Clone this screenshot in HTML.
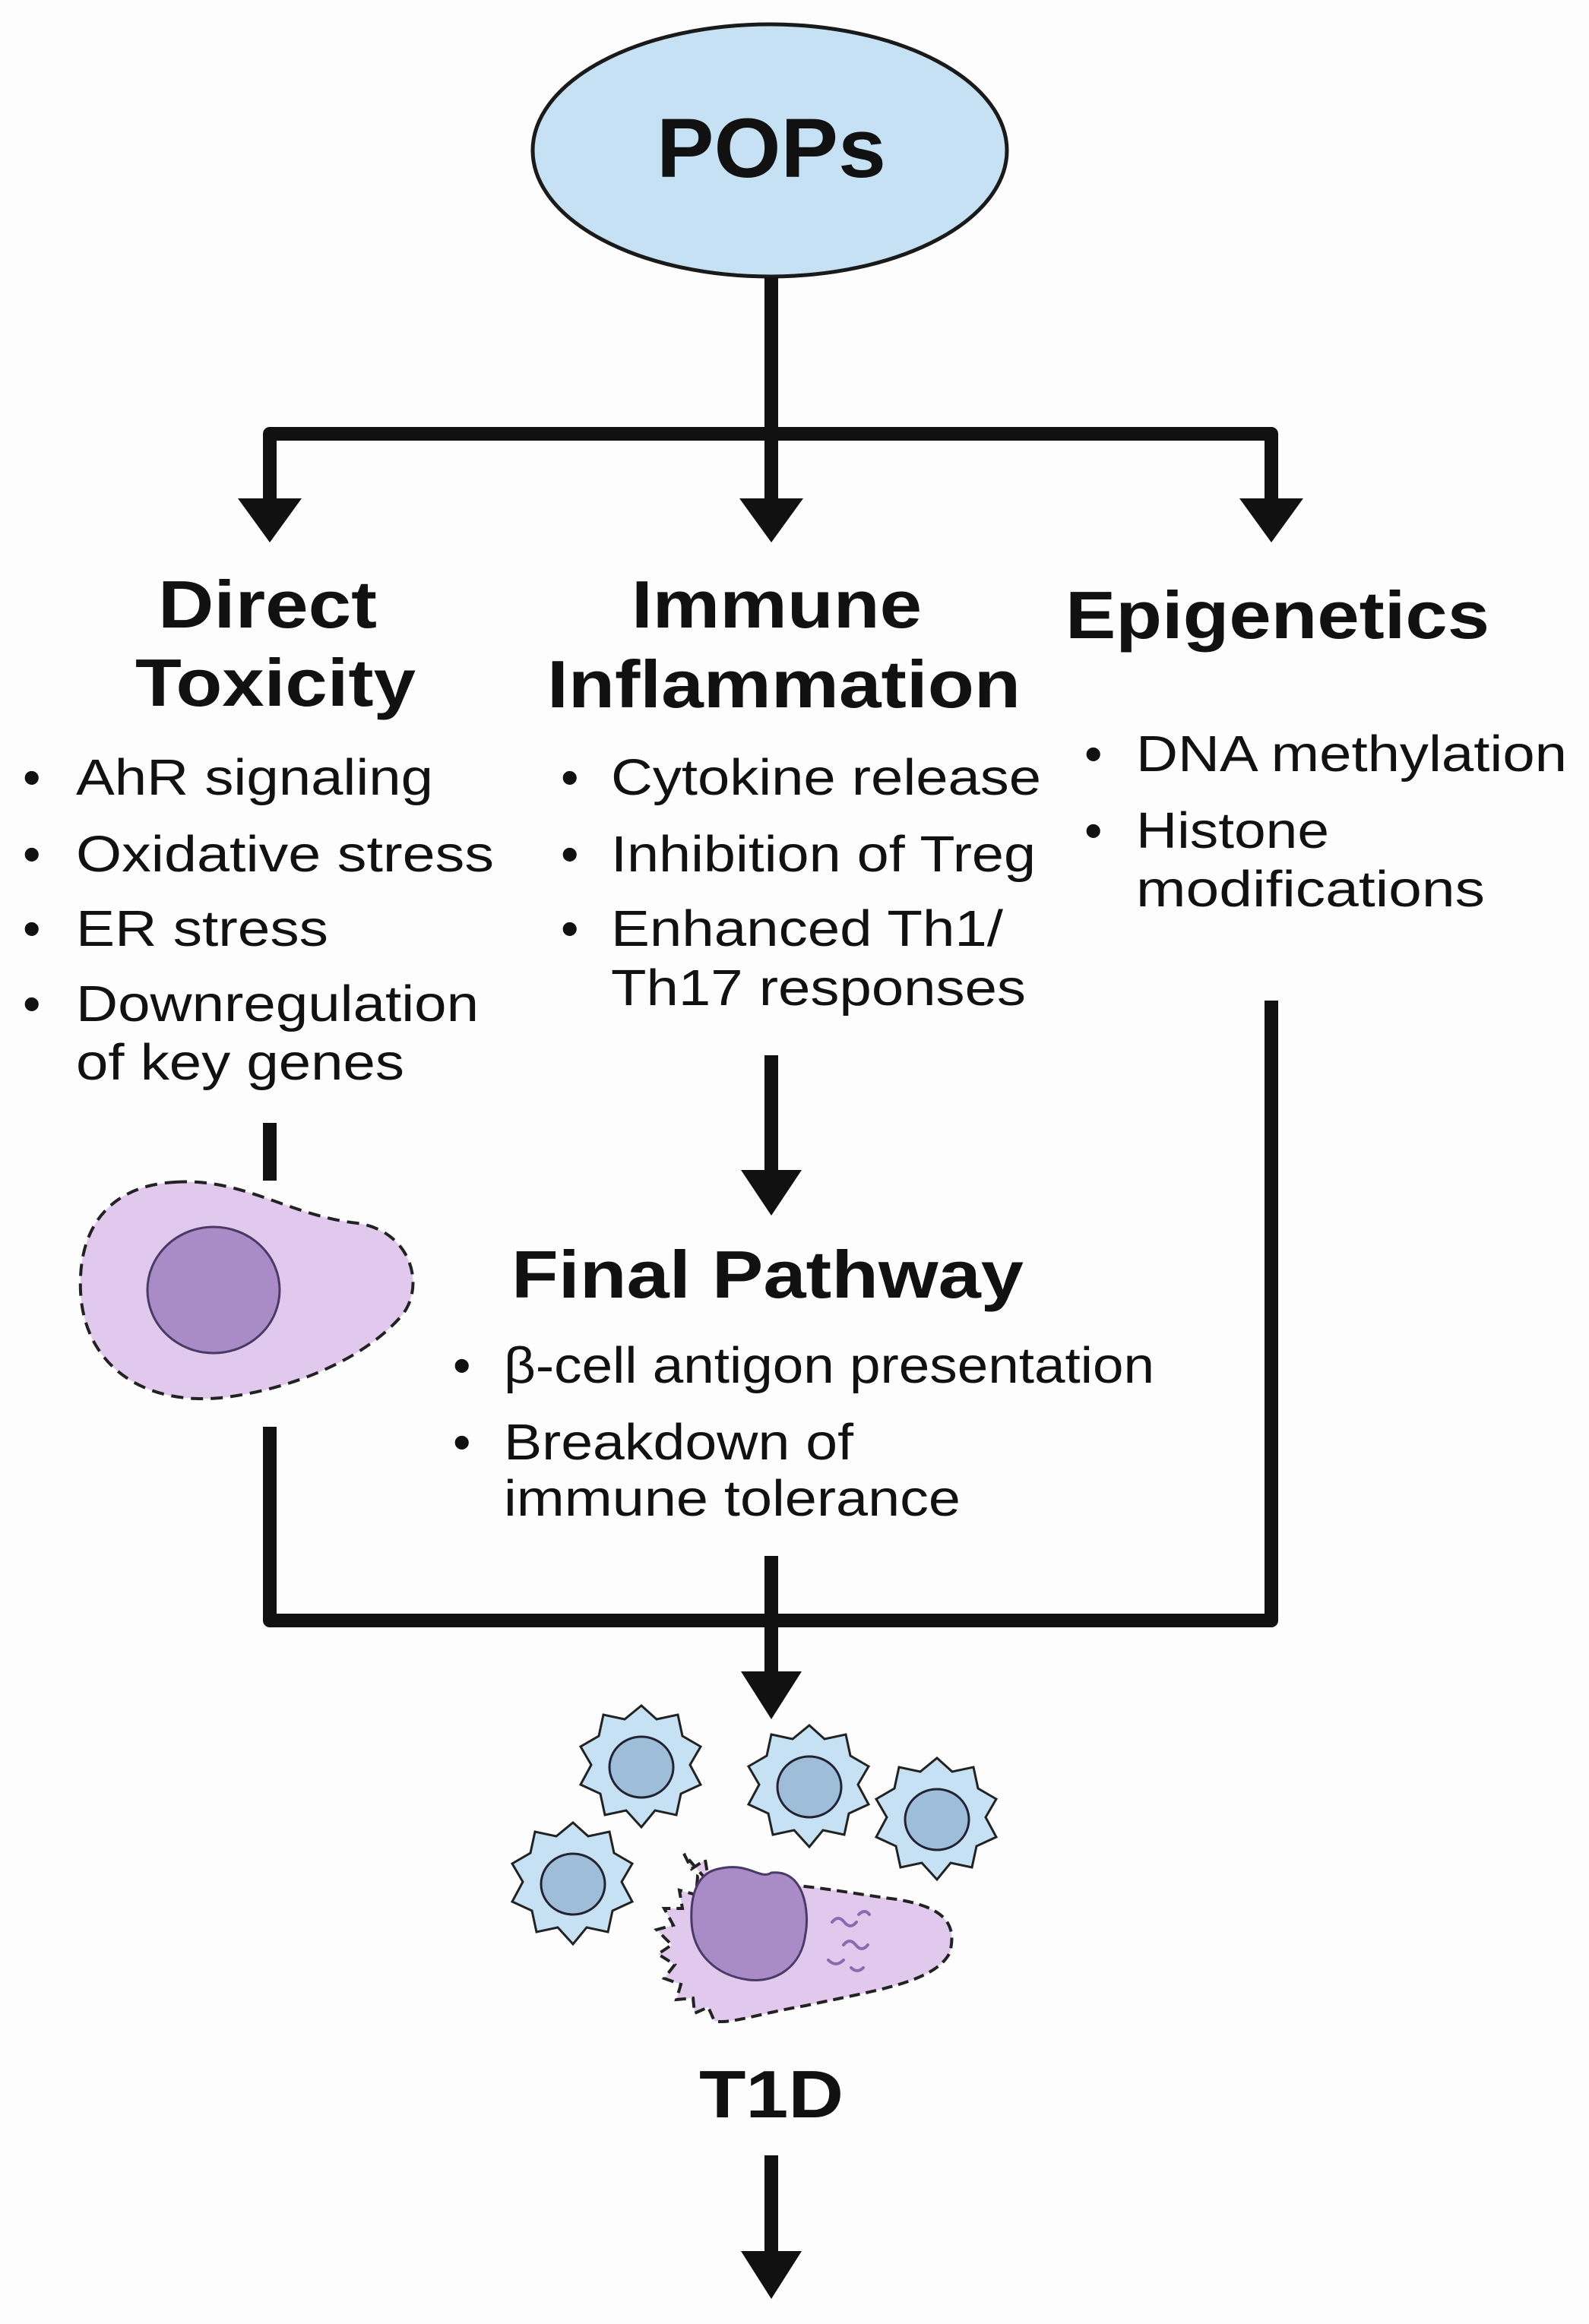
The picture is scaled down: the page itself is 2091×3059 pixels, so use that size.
<!DOCTYPE html>
<html><head><meta charset="utf-8"><style>
html,body{margin:0;padding:0;background:#fdfdfd}
svg{display:block}
text{font-family:"Liberation Sans",Arial,sans-serif;fill:#111}
.h{font-weight:bold;font-size:88px}
.b{font-size:67px}
</style></head><body>
<svg width="2091" height="3059" viewBox="0 0 2091 3059" xmlns="http://www.w3.org/2000/svg">
<rect width="2091" height="3059" fill="#fdfdfd"/>
<defs>
<marker id="a" markerWidth="1" markerHeight="1"></marker>
</defs>
<!-- POPs ellipse -->
<ellipse cx="1013" cy="198" rx="312" ry="166" fill="#c6e1f3" stroke="#1a1a1a" stroke-width="5"/>
<text x="1015" y="233" text-anchor="middle" font-weight="bold" font-size="110" textLength="302" lengthAdjust="spacingAndGlyphs">POPs</text>

<g stroke="#111" stroke-width="18" fill="none" stroke-linejoin="round">
<path d="M1015 365 V660"/>
<path d="M355 660 V571 H1673 V660"/>
<path d="M1015 1389 V1545"/>
<path d="M355 1478 V1554"/>
<path d="M355 1878 V2133 H1673 V1317"/>
<path d="M1015 2048 V2205"/>
<path d="M1015 2837 V2970"/>
</g>
<g fill="#111">
<polygon points="313,656 397,656 355,714"/>
<polygon points="973,656 1057,656 1015,714"/>
<polygon points="1631,656 1715,656 1673,714"/>
<polygon points="975,1540 1055,1540 1015,1600"/>
<polygon points="975,2200 1055,2200 1015,2263"/>
<polygon points="975,2963 1055,2963 1015,3026"/>
</g>

<!-- Headings -->
<text class="h" x="208" y="826" textLength="288" lengthAdjust="spacingAndGlyphs">Direct</text>
<text class="h" x="178" y="929" textLength="369" lengthAdjust="spacingAndGlyphs">Toxicity</text>
<text class="h" x="831" y="826" textLength="382" lengthAdjust="spacingAndGlyphs">Immune</text>
<text class="h" x="720" y="931" textLength="623" lengthAdjust="spacingAndGlyphs">Inflammation</text>
<text class="h" x="1402" y="840" textLength="558" lengthAdjust="spacingAndGlyphs">Epigenetics</text>

<!-- Left bullets -->
<g class="b">
<text x="30" y="1046">•</text><text x="100" y="1046" class="b" textLength="470" lengthAdjust="spacingAndGlyphs">AhR signaling</text>
<text x="30" y="1147">•</text><text x="100" y="1147" class="b" textLength="550" lengthAdjust="spacingAndGlyphs">Oxidative stress</text>
<text x="30" y="1245">•</text><text x="100" y="1245" class="b" textLength="332" lengthAdjust="spacingAndGlyphs">ER stress</text>
<text x="30" y="1344">•</text><text x="100" y="1344" class="b" textLength="530" lengthAdjust="spacingAndGlyphs">Downregulation</text>
<text x="100" y="1421" class="b" textLength="432" lengthAdjust="spacingAndGlyphs">of key genes</text>
</g>
<!-- Middle bullets -->
<g class="b">
<text x="738" y="1046">•</text><text x="804" y="1046" class="b" textLength="566" lengthAdjust="spacingAndGlyphs">Cytokine release</text>
<text x="738" y="1147">•</text><text x="804" y="1147" class="b" textLength="559" lengthAdjust="spacingAndGlyphs">Inhibition of Treg</text>
<text x="738" y="1245">•</text><text x="804" y="1245" class="b" textLength="516" lengthAdjust="spacingAndGlyphs">Enhanced Th1/</text>
<text x="804" y="1323" class="b" textLength="546" lengthAdjust="spacingAndGlyphs">Th17 responses</text>
</g>
<!-- Right bullets -->
<g class="b">
<text x="1427" y="1015">•</text><text x="1495" y="1015" class="b" textLength="567" lengthAdjust="spacingAndGlyphs">DNA methylation</text>
<text x="1427" y="1116">•</text><text x="1495" y="1116" class="b" textLength="254" lengthAdjust="spacingAndGlyphs">Histone</text>
<text x="1495" y="1193" class="b" textLength="459" lengthAdjust="spacingAndGlyphs">modifications</text>
</g>

<!-- Beta cell -->
<path d="M230 1556 C320 1550 380 1600 470 1610 C540 1620 560 1690 530 1730 C480 1790 380 1830 290 1840 C180 1850 110 1790 106 1700 C102 1610 150 1560 230 1556 Z" fill="#e0c9ec" stroke="#222" stroke-width="4" stroke-dasharray="16 10"/>
<ellipse cx="281" cy="1698" rx="87" ry="83" fill="#a98bc7" stroke="#4a3a66" stroke-width="3"/>

<!-- Final pathway -->
<text class="h" x="673" y="1708" textLength="674" lengthAdjust="spacingAndGlyphs">Final Pathway</text>
<g class="b">
<text x="596" y="1820">•</text><text x="663" y="1820" class="b" textLength="856" lengthAdjust="spacingAndGlyphs">β-cell antigon presentation</text>
<text x="596" y="1921">•</text><text x="663" y="1921" class="b" textLength="460" lengthAdjust="spacingAndGlyphs">Breakdown of</text>
<text x="663" y="1995" class="b" textLength="601" lengthAdjust="spacingAndGlyphs">immune tolerance</text>
</g>

<!-- Immune cells -->
<g fill="#c6e1f3" stroke="#222" stroke-width="3">
<path d="M844 2245 l20 18 28 -6 6 28 24 14 -14 24 14 26 -26 12 -6 28 -28 -6 -18 22 -20 -22 -28 6 -6 -28 -26 -12 14 -26 -14 -24 24 -14 6 -28 28 6 z"/>
<path d="M1065 2271 l20 18 28 -6 6 28 24 14 -14 24 14 26 -26 12 -6 28 -28 -6 -18 22 -20 -22 -28 6 -6 -28 -26 -12 14 -26 -14 -24 24 -14 6 -28 28 6 z"/>
<path d="M1233 2314 l20 18 28 -6 6 28 24 14 -14 24 14 26 -26 12 -6 28 -28 -6 -18 22 -20 -22 -28 6 -6 -28 -26 -12 14 -26 -14 -24 24 -14 6 -28 28 6 z"/>
<path d="M754 2399 l20 18 28 -6 6 28 24 14 -14 24 14 26 -26 12 -6 28 -28 -6 -18 22 -20 -22 -28 6 -6 -28 -26 -12 14 -26 -14 -24 24 -14 6 -28 28 6 z"/>
</g>
<g fill="#9dbdd9" stroke="#223" stroke-width="3">
<ellipse cx="844" cy="2326" rx="42" ry="40"/>
<ellipse cx="1065" cy="2352" rx="42" ry="40"/>
<ellipse cx="1233" cy="2395" rx="42" ry="40"/>
<ellipse cx="754" cy="2480" rx="42" ry="40"/>
</g>
<!-- Attacked beta cell -->
<path d="M900 2440 l10 20 18 -12 4 24 20 -8 -2 22 C1020 2470 1100 2490 1180 2500 C1240 2510 1260 2530 1250 2570 C1230 2610 1150 2620 1060 2640 C1000 2650 960 2665 940 2660 l-8 -18 -18 8 -2 -20 -22 2 6 -20 -22 -8 14 -18 -22 -14 18 -12 -20 -20 22 -6 -12 -22 24 0 -4 -24 22 6 2 -24 18 12 z" fill="#e0c9ec" stroke="#222" stroke-width="4" stroke-dasharray="14 8"/>
<path d="M945 2460 C985 2450 1000 2475 1015 2465 C1060 2460 1065 2520 1060 2545 C1055 2590 1020 2610 985 2606 C940 2600 912 2570 910 2530 C908 2490 920 2465 945 2460 Z" fill="#a98bc7" stroke="#4a3a66" stroke-width="3"/>
<g stroke="#8a6bb0" stroke-width="4" fill="none" stroke-linecap="round">
<path d="M1095 2530 q8 -10 16 0 t16 0"/>
<path d="M1110 2560 q8 -10 16 0 t16 0"/>
<path d="M1090 2580 q10 10 20 0"/>
<path d="M1130 2520 q8 -8 14 0"/>
<path d="M1120 2590 q8 8 16 0"/>
</g>

<text class="h" x="1015" y="2787" text-anchor="middle" textLength="190" lengthAdjust="spacingAndGlyphs">T1D</text>
</svg>
</body></html>
